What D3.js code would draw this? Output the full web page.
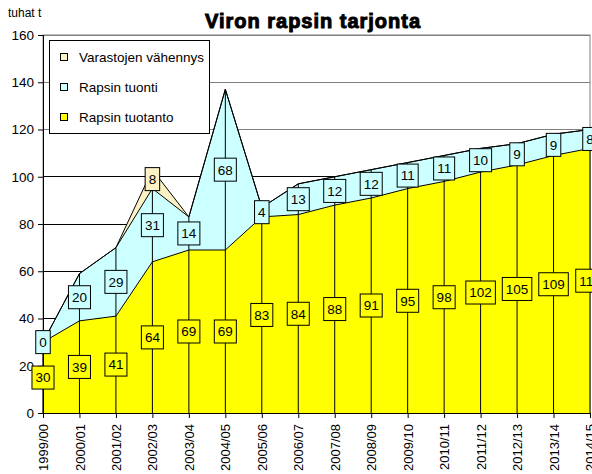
<!DOCTYPE html>
<html>
<head>
<meta charset="utf-8">
<script src="https://cdn.jsdelivr.net/npm/d3@7"></script>
<style>
  body { margin: 0; background: #fff; }
  svg { font-family: "Liberation Sans", Arial, sans-serif; }
</style>
</head>
<body>
<div id="chart"></div>
<script>
const years = ["1999/00", "2000/01", "2001/02", "2002/03", "2003/04", "2004/05", "2005/06", "2006/07",
  "2007/08", "2008/09", "2009/10", "2010/11", "2011/12", "2012/13", "2013/14", "2014/15"];
const tuotanto = [30, 39, 41, 64, 69, 69, 83, 84, 88, 91, 95, 98, 102, 105, 109, 112];
const tuonti = [0, 20, 29, 31, 14, 68, 4, 13, 12, 12, 11, 11, 10, 9, 9, 8];
const varastot = [0, 0, 0, 8, 0, 0, 0, 0, 0, 0, 0, 0, 0, 0, 0, 0];
const yTicks = [0, 20, 40, 60, 80, 100, 120, 140, 160];

const seriesInfo = [
  { key: "tuotanto", name: "Rapsin tuotanto", color: "#ffff00", values: tuotanto, showZero: true },
  { key: "tuonti", name: "Rapsin tuonti", color: "#ccffff", values: tuonti, showZero: true },
  { key: "varastot", name: "Varastojen vähennys", color: "#fbf1c4", values: varastot, showZero: false }
];

const width = 592, height = 474;
const plotLeft = 43, plotRight = 590, plotTop = 35, plotBottom = 413;

const svg = d3.select("#chart").append("svg")
  .attr("width", width)
  .attr("height", height);

const x = d3.scalePoint().domain(years).range([plotLeft, plotRight]);
const y = d3.scaleLinear().domain([0, 160]).range([plotBottom, plotTop]);

const table = years.map((yr, i) => ({ year: yr, tuotanto: tuotanto[i], tuonti: tuonti[i], varastot: varastot[i] }));
const stacked = d3.stack().keys(seriesInfo.map(s => s.key))(table);

// plot area border (gray) and gridlines
svg.append("rect")
  .attr("x", plotLeft).attr("y", plotTop)
  .attr("width", plotRight - plotLeft).attr("height", plotBottom - plotTop)
  .attr("fill", "none").attr("stroke", "#808080");

svg.append("g")
  .selectAll("line")
  .data(yTicks.filter(t => t > 0))
  .join("line")
  .attr("x1", plotLeft).attr("x2", plotRight)
  .attr("y1", d => y(d)).attr("y2", d => y(d))
  .attr("stroke", d => d >= 120 ? "#808080" : "#000")
  .attr("stroke-width", 1)
  .attr("shape-rendering", "crispEdges");

// stacked areas
const area = d3.area()
  .x(d => x(d.data.year))
  .y0(d => y(d[0]))
  .y1(d => y(d[1]));

const topLine = d3.line()
  .x(d => x(d.data.year))
  .y(d => y(d[1]));

svg.append("g")
  .selectAll("path")
  .data(stacked)
  .join("path")
  .attr("d", area)
  .attr("fill", (d, i) => seriesInfo[i].color);

svg.append("g")
  .selectAll("path")
  .data(stacked)
  .join("path")
  .attr("d", topLine)
  .attr("fill", "none")
  .attr("stroke", "#000")
  .attr("stroke-width", 1);

// drop lines
const totals = stacked[stacked.length - 1];
svg.append("g")
  .selectAll("line")
  .data(totals)
  .join("line")
  .attr("x1", d => x(d.data.year)).attr("x2", d => x(d.data.year))
  .attr("y1", y(0)).attr("y2", d => y(d[1]))
  .attr("stroke", "#000")
  .attr("stroke-width", 1);

// axes
const yAxis = svg.append("g")
  .attr("transform", `translate(${plotLeft},0)`)
  .call(d3.axisLeft(y).tickValues(yTicks).tickSize(5).tickPadding(4));
yAxis.select(".domain").attr("stroke", "#000");
yAxis.selectAll("text").attr("font-size", 13.5).attr("fill", "#000")
  .attr("font-family", "Liberation Sans, Arial, sans-serif");

const xAxis = svg.append("g")
  .attr("transform", `translate(0,${plotBottom})`)
  .call(d3.axisBottom(x).tickSize(5).tickSizeOuter(0));
xAxis.select(".domain").attr("stroke", "#000");
xAxis.selectAll("text")
  .attr("font-size", 13)
  .attr("fill", "#000")
  .attr("font-family", "Liberation Sans, Arial, sans-serif")
  .attr("transform", "rotate(-90)")
  .attr("text-anchor", "end")
  .attr("x", -11)
  .attr("y", 0)
  .attr("dy", "0.35em");

// data labels
const labels = svg.append("g");
stacked.forEach((layer, si) => {
  const info = seriesInfo[si];
  layer.forEach((d, i) => {
    const v = info.values[i];
    if (!info.showZero && v === 0) return;
    const cx = x(d.data.year), cy = y((d[0] + d[1]) / 2);
    const g = labels.append("g").attr("transform", `translate(${cx},${cy})`);
    const box = g.append("rect");
    const t = g.append("text")
      .attr("text-anchor", "middle")
      .attr("dy", "0.36em")
      .attr("font-size", 13.5)
      .attr("fill", "#000")
      .text(v);
    const w = t.node().getComputedTextLength() + 7;
    box.attr("x", -w / 2).attr("y", -11.5)
      .attr("width", w).attr("height", 23)
      .attr("fill", info.color)
      .attr("stroke", "#000")
      .attr("stroke-width", 1);
  });
});

// legend
const legend = svg.append("g");
legend.append("rect")
  .attr("x", 49.5).attr("y", 40.5)
  .attr("width", 160).attr("height", 93)
  .attr("fill", "#fff").attr("stroke", "#000");
const legendItems = seriesInfo.slice().reverse();
legendItems.forEach((s, i) => {
  const ly = 53.5 + i * 30;
  legend.append("rect")
    .attr("x", 60.5).attr("y", ly)
    .attr("width", 7).attr("height", 7)
    .attr("fill", s.color).attr("stroke", "#000");
  legend.append("text")
    .attr("x", 79).attr("y", ly + 8.5)
    .attr("font-size", 13.5)
    .attr("fill", "#000")
    .text(s.name);
});

// title and unit
svg.append("text")
  .attr("x", 8).attr("y", 17)
  .attr("font-size", 12)
  .attr("fill", "#000")
  .text("tuhat t");

svg.append("text")
  .attr("x", 205).attr("y", 28)
  .attr("font-size", 20)
  .attr("font-weight", "bold")
  .attr("stroke", "#000").attr("stroke-width", 1)
  .attr("textLength", 215)
  .attr("fill", "#000")
  .text("Viron rapsin tarjonta");
</script>
</body>
</html>
